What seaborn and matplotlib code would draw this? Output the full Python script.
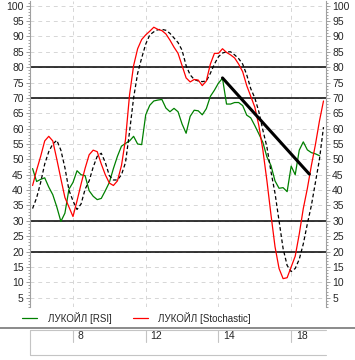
import numpy as np
import matplotlib
matplotlib.use('Agg')
import matplotlib.pyplot as plt
import matplotlib.transforms as mtransforms
from matplotlib.lines import Line2D
from matplotlib.ticker import MultipleLocator
import seaborn as sns
import pandas as pd

# values, one per bar
rsi = [47, 42.8, 43.5, 44, 41, 38.5, 34.5, 29.8, 32.5, 40.3,
       42.5, 46.3, 45, 44.7, 39.8, 38, 36.9, 37.3, 39.8, 42.5,
       47, 51, 54.3, 55.2, 56, 57.5, 55, 54.8, 64.5, 67.6,
       69, 69.3, 69.5, 66.7, 65.5, 66.6, 65.5, 61.5, 58.5, 64,
       66, 65.8, 64.5, 66.5, 70.5, 72.5, 74.8, 76.4, 68, 68,
       68.5, 68.5, 67.5, 64.4, 63.5, 61, 58.3, 55.5, 50.8, 48,
       43, 40.6, 40.8, 39.5, 47.8, 45, 53, 55.7, 53.1, 52.2,
       51.8, 51.2]
stoch = [41.5, 46.5, 51, 56, 57.5, 56, 50, 43.7, 37.6, 34.5,
         31.4, 36.5, 42, 47.1, 51.5, 53, 52.5, 48.5, 45, 42.3,
         41.5, 43, 48, 56.5, 71, 80.5, 86, 89, 90.5, 91.7,
         93, 92.3, 91.9, 90.8, 88.8, 86.5, 84.5, 80.5, 76.5, 75.2,
         76, 75.8, 74, 75.5, 81, 84.5, 84.5, 86, 84.8, 84,
         83, 81, 78.5, 74, 70.5, 67, 61, 53, 43, 32,
         21.6, 14.5, 11.2, 11.5, 15, 18.5, 25.7, 34, 40.5, 48,
         54.8, 62.5, 69]
signal = [34, 37.5, 42.5, 48.5, 52.5, 55, 56.2, 53, 47.3, 40,
          36.5, 33.7, 35.5, 40.3, 43, 47.5, 51, 52, 49, 44.7,
          43.3, 43.3, 45, 49, 59, 70, 78, 83, 87.5, 90.5,
          91.5, 92.2, 92.3, 92, 91, 89.5, 88, 85.5, 80.5, 77.5,
          76, 75.5, 75.3, 75.5, 78, 81, 83.4, 84.6, 85, 85,
          84, 82.8, 81, 77.5, 73, 70, 65.5, 59.5, 54, 46,
          39, 30, 21, 15.5, 13.5, 14.5, 17.5, 22.5, 29, 35,
          42.5, 50, 60.5]
trend_x = [47, 68.5]
trend_y = [76.5, 45.2]
levels = [20, 30, 70, 80]
date_pos = [10, 28, 46, 64]
date_labels = ['8', '12', '14', '18']

sns.set_style('white')
plt.rcParams['font.family'] = ['Liberation Sans', 'DejaVu Sans']

W, H = 355, 360
fig = plt.figure(figsize=(W / 100, H / 100), dpi=100)
ax = fig.add_axes([30 / W, 53 / H, 296 / W, 306 / H])

gray = '#a0a0a0'
ax.set_xlim(-0.64, 72.62)
ax.set_ylim(1.97, 101.53)

# grid
ax.set_yticks(range(5, 101, 5))
ax.yaxis.set_minor_locator(MultipleLocator(1))
ax.set_xticks(date_pos)
ax.set_xticklabels([])
ax.grid(True, linestyle=(0, (4, 4)), color='#d6d6d6', linewidth=0.7)
ax.set_axisbelow(True)

for lv in levels:
    ax.axhline(lv, color='black', linewidth=1.1, zorder=2)

df = pd.DataFrame({'i': np.arange(len(stoch)), 'stoch': stoch, 'signal': signal})
sns.lineplot(x=np.arange(len(rsi)), y=rsi, color='#008000', linewidth=0.9, ax=ax, zorder=3)
sns.lineplot(data=df, x='i', y='signal', color='black', linewidth=0.9,
             linestyle=(0, (3, 2)), ax=ax, zorder=3)
sns.lineplot(data=df, x='i', y='stoch', color='#ff0000', linewidth=0.9, ax=ax, zorder=4)
ax.plot(trend_x, trend_y, color='black', linewidth=2.2, zorder=5)

ax.set_xlabel('')
ax.set_ylabel('')
for s in ['top', 'bottom']:
    ax.spines[s].set_visible(False)
for s in ['left', 'right']:
    ax.spines[s].set_color(gray)
    ax.spines[s].set_linewidth(0.8)

ax.tick_params(axis='x', length=0)
ax.tick_params(axis='y', which='major', direction='out', length=3, width=0.7,
               color=gray, left=True, right=True, labelleft=True,
               labelright=True, labelsize=7.5, pad=1.5)
ax.tick_params(axis='y', which='minor', direction='out', length=1.6, width=0.7,
               color=gray, left=True, right=True)

# legend below the plot
def fy(y):
    return 1 - y / H

fig.add_artist(Line2D([22 / W, 37 / W], [fy(318), fy(318)], color='#008000', linewidth=0.9))
fig.text(48 / W, fy(318), 'ЛУКОЙЛ [RSI]', fontsize=7, va='center', ha='left')
fig.add_artist(Line2D([133 / W, 148 / W], [fy(318), fy(318)], color='#ff0000', linewidth=0.9))
fig.text(158 / W, fy(318), 'ЛУКОЙЛ [Stochastic]', fontsize=7, va='center', ha='left')

# separator and date table
fig.add_artist(Line2D([0, 1], [fy(327.5), fy(327.5)], color='#8a8a8a', linewidth=1.4))
tcol = '#c4c4c4'
fig.add_artist(Line2D([30 / W, 326 / W], [fy(329.5), fy(329.5)], color=tcol, linewidth=0.8))
fig.add_artist(Line2D([30 / W, 326 / W], [fy(355), fy(355)], color=tcol, linewidth=0.8))
fig.add_artist(Line2D([30 / W, 30 / W], [fy(329.5), fy(355)], color=tcol, linewidth=0.8))
blend = mtransforms.blended_transform_factory(ax.transData, fig.transFigure)
for p, lab in zip(date_pos, date_labels):
    ax.plot([p, p], [fy(329.5), fy(342)], color=tcol, linewidth=0.8,
            transform=blend, clip_on=False)
    ax.text(p + 1.2, fy(336), lab, fontsize=7.5, va='center', ha='left',
            transform=blend)

fig.savefig('out.png', dpi=100, facecolor='white')
